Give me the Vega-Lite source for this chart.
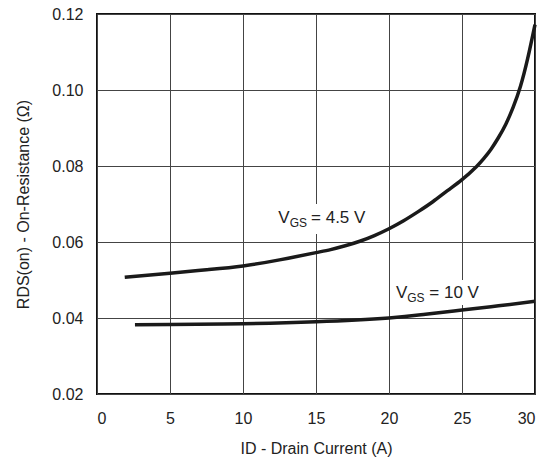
{
  "$schema": "https://vega.github.io/schema/vega-lite/v6.json",
  "width": 438,
  "height": 380,
  "autosize": {"type": "none"},
  "padding": {"left": 97, "top": 14, "right": 10, "bottom": 65},
  "background": "white",
  "config": {
    "font": "Liberation Sans",
    "view": {"stroke": "#111111", "strokeWidth": 2},
    "axis": {
      "grid": true,
      "gridColor": "#444444",
      "gridWidth": 1,
      "domain": false,
      "ticks": false,
      "tickSize": 0,
      "labelFont": "Liberation Sans",
      "labelFontSize": 16,
      "labelColor": "#222222",
      "titleFont": "Liberation Sans",
      "titleFontSize": 16,
      "titleFontWeight": "normal",
      "titleColor": "#222222"
    }
  },
  "datasets": {
    "curves": [
      {"vgs": "4.5", "x": 1.9, "y": 0.0507},
      {"vgs": "4.5", "x": 5, "y": 0.0518},
      {"vgs": "4.5", "x": 7.5, "y": 0.0527},
      {"vgs": "4.5", "x": 10, "y": 0.0537},
      {"vgs": "4.5", "x": 12.5, "y": 0.0553},
      {"vgs": "4.5", "x": 15, "y": 0.0572},
      {"vgs": "4.5", "x": 16, "y": 0.0580},
      {"vgs": "4.5", "x": 17, "y": 0.0590},
      {"vgs": "4.5", "x": 18, "y": 0.0602},
      {"vgs": "4.5", "x": 19, "y": 0.0617},
      {"vgs": "4.5", "x": 20, "y": 0.0635},
      {"vgs": "4.5", "x": 21, "y": 0.0656},
      {"vgs": "4.5", "x": 22, "y": 0.0680},
      {"vgs": "4.5", "x": 23, "y": 0.0706},
      {"vgs": "4.5", "x": 24, "y": 0.0735},
      {"vgs": "4.5", "x": 25, "y": 0.0764},
      {"vgs": "4.5", "x": 26, "y": 0.0799},
      {"vgs": "4.5", "x": 26.5, "y": 0.0820},
      {"vgs": "4.5", "x": 27, "y": 0.0845},
      {"vgs": "4.5", "x": 27.5, "y": 0.0875},
      {"vgs": "4.5", "x": 28, "y": 0.0910},
      {"vgs": "4.5", "x": 28.5, "y": 0.0954},
      {"vgs": "4.5", "x": 29, "y": 0.1009},
      {"vgs": "4.5", "x": 29.5, "y": 0.1083},
      {"vgs": "4.5", "x": 30, "y": 0.1172},
      {"vgs": "10", "x": 2.6, "y": 0.0382},
      {"vgs": "10", "x": 5, "y": 0.0383},
      {"vgs": "10", "x": 10, "y": 0.0385},
      {"vgs": "10", "x": 15, "y": 0.0390},
      {"vgs": "10", "x": 20, "y": 0.0400},
      {"vgs": "10", "x": 22.5, "y": 0.0410},
      {"vgs": "10", "x": 25, "y": 0.0421},
      {"vgs": "10", "x": 27.5, "y": 0.0432},
      {"vgs": "10", "x": 30, "y": 0.0444}
    ],
    "boxes": [
      {"x": 12.26, "x2": 19.0, "y": 0.0700, "y2": 0.0621},
      {"x": 20.27, "x2": 25.82, "y": 0.0500, "y2": 0.0434}
    ],
    "mainlabels": [
      {"x": 12.42, "y": 0.0650, "t": "V"},
      {"x": 14.66, "y": 0.0650, "t": "= 4.5 V"},
      {"x": 20.48, "y": 0.04526, "t": "V"},
      {"x": 22.76, "y": 0.04526, "t": "= 10 V"}
    ],
    "sublabels": [
      {"x": 13.2, "y": 0.0639, "t": "GS"},
      {"x": 21.25, "y": 0.0442, "t": "GS"}
    ]
  },
  "encoding": {
    "x": {
      "field": "x",
      "type": "quantitative",
      "scale": {"domain": [0, 30], "nice": false, "zero": false},
      "axis": {
        "title": "ID - Drain Current (A)",
        "values": [0, 5, 10, 15, 20, 25, 30],
        "format": "d",
        "labelPadding": 16,
        "titlePadding": 14
      }
    },
    "y": {
      "field": "y",
      "type": "quantitative",
      "scale": {"domain": [0.02, 0.12], "nice": false, "zero": false},
      "axis": {
        "title": "RDS(on) - On-Resistance (Ω)",
        "values": [0.02, 0.04, 0.06, 0.08, 0.10, 0.12],
        "format": ".2f",
        "labelPadding": 14,
        "titlePadding": 20
      }
    }
  },
  "layer": [
    {
      "data": {"name": "boxes"},
      "mark": {"type": "rect", "fill": "white", "stroke": null},
      "encoding": {
        "x2": {"field": "x2"},
        "y2": {"field": "y2"}
      }
    },
    {
      "data": {"name": "curves"},
      "mark": {"type": "line", "color": "#1a1a1a", "strokeWidth": 3.5, "interpolate": "natural"},
      "encoding": {
        "detail": {"field": "vgs", "type": "nominal"}
      }
    },
    {
      "data": {"name": "mainlabels"},
      "mark": {"type": "text", "align": "left", "baseline": "alphabetic", "fontSize": 17, "color": "#222222"},
      "encoding": {
        "text": {"field": "t", "type": "nominal"}
      }
    },
    {
      "data": {"name": "sublabels"},
      "mark": {"type": "text", "align": "left", "baseline": "alphabetic", "fontSize": 12, "color": "#222222"},
      "encoding": {
        "text": {"field": "t", "type": "nominal"}
      }
    }
  ]
}
